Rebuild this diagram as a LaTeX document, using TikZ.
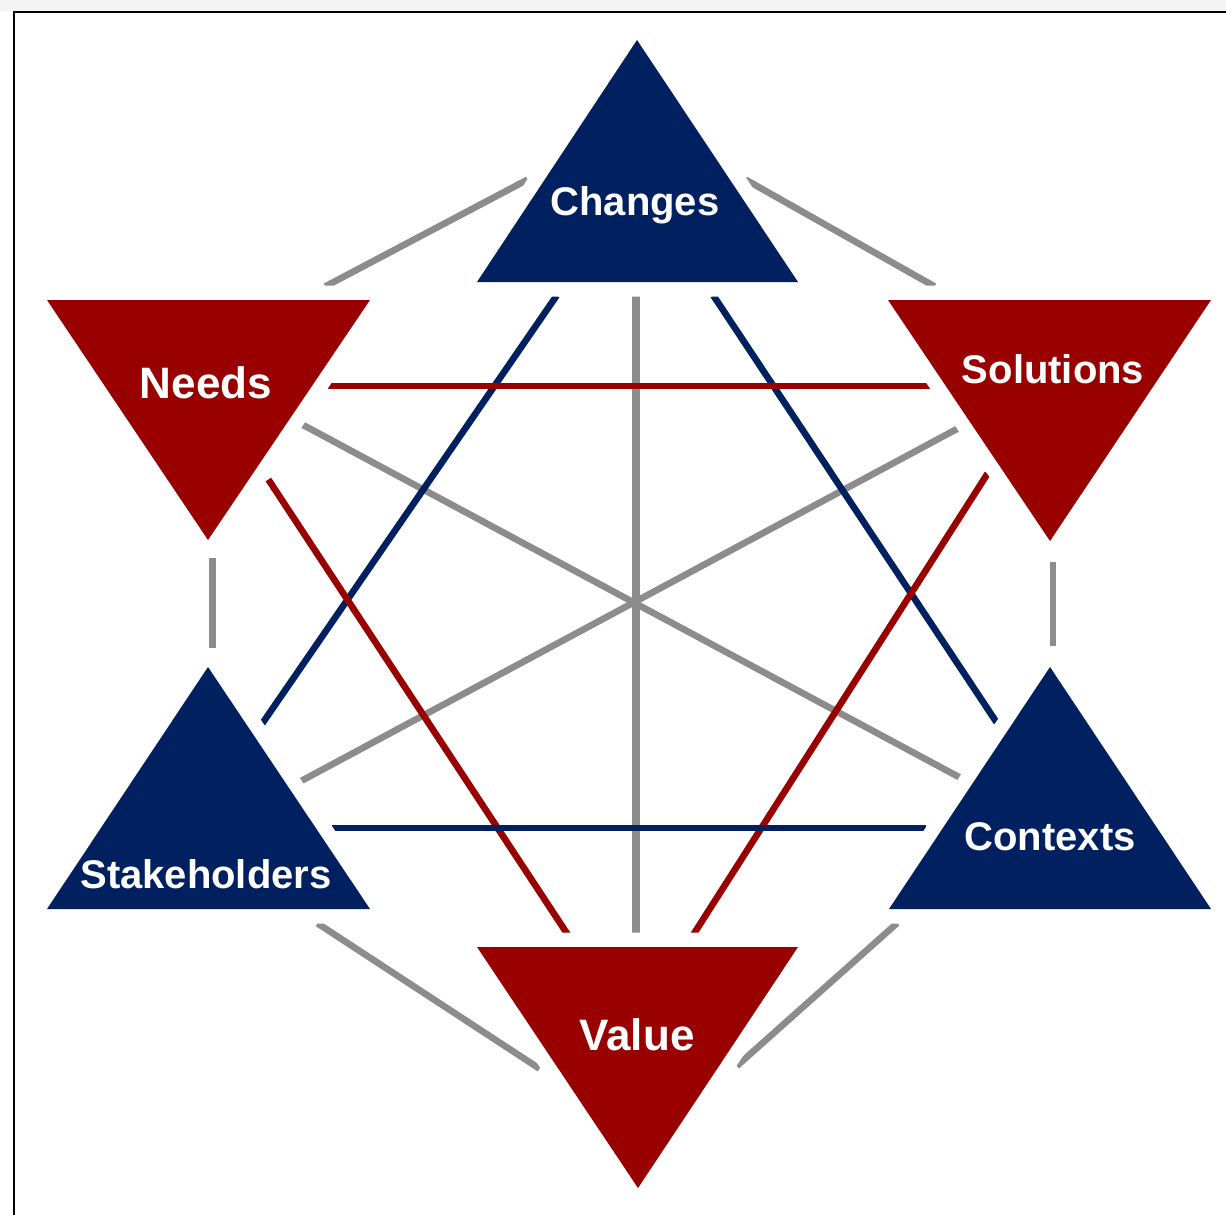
\documentclass[tikz,border=0pt]{standalone}
\usepackage{fontspec}
\setmainfont{Liberation Sans}
\definecolor{navy}{RGB}{0,32,96}
\definecolor{darkred}{RGB}{153,0,0}
\definecolor{linegray}{RGB}{140,140,140}
\definecolor{stripgray}{RGB}{244,244,244}
\begin{document}
\begin{tikzpicture}[x=0.5pt,y=-0.5pt,
  conn/.style={line width=3.3pt, line cap=butt, shorten <=-1.5pt, shorten >=-1.5pt},
  grayconn/.style={conn, draw=linegray},
  redconn/.style={conn, draw=darkred},
  blueconn/.style={conn, draw=navy},
  halo/.style={draw=white, line width=14.5pt, line join=round},
  bluetri/.style={fill=navy},
  redtri/.style={fill=darkred},
  lbl/.style={text=white, anchor=base, inner sep=0pt, font=\bfseries\fontsize{20}{24}\selectfont},
  biglbl/.style={lbl, font=\bfseries\fontsize{22}{26}\selectfont},
]
\useasboundingbox (0,0) rectangle (1226,1215);
\fill[white] (0,0) rectangle (1226,1215);
\fill[stripgray] (0,0) rectangle (1226,11);
\draw[line width=1pt] (13,11.8) -- (1226,11.8);
\draw[line width=1.2pt] (14.2,11) -- (14.2,1215);

% triangle vertices
\coordinate (C1) at (637,40);  \coordinate (C2) at (798,282);  \coordinate (C3) at (477,282);
\coordinate (N1) at (47,300);  \coordinate (N2) at (370,300);  \coordinate (N3) at (208,540);
\coordinate (S1) at (888,300); \coordinate (S2) at (1211,300); \coordinate (S3) at (1050,541);
\coordinate (K1) at (208,667); \coordinate (K2) at (370,909);  \coordinate (K3) at (47,909);
\coordinate (X1) at (1050,667);\coordinate (X2) at (1211,909); \coordinate (X3) at (889,909);
\coordinate (V1) at (477,947); \coordinate (V2) at (798,947);  \coordinate (V3) at (638,1188);

% connector ends
\coordinate (cn-a) at (525,181); \coordinate (cn-b) at (328,285);
\coordinate (cs-a) at (748,181); \coordinate (cs-b) at (932,285);
\coordinate (nk-a) at (212.5,558); \coordinate (nk-b) at (212.5,648);
\coordinate (sx-a) at (1053,562); \coordinate (sx-b) at (1053,646);
\coordinate (kv-a) at (320,925); \coordinate (kv-b) at (537,1067);
\coordinate (xv-a) at (895,925); \coordinate (xv-b) at (739,1064);
\coordinate (cv-a) at (636,298); \coordinate (cv-b) at (636,931);
\coordinate (nx-a) at (305,426); \coordinate (nx-b) at (957,776);
\coordinate (sk-a) at (955,430); \coordinate (sk-b) at (303,780);
\coordinate (ns-a) at (331,386); \coordinate (ns-b) at (927,386);
\coordinate (nv-a) at (270,482); \coordinate (nv-b) at (566,932);
\coordinate (sv-a) at (986,476); \coordinate (sv-b) at (695,932);
\coordinate (ck-a) at (555,298); \coordinate (ck-b) at (264,721);
\coordinate (cx-a) at (715,298); \coordinate (cx-b) at (995,720);
\coordinate (kx-a) at (335,828); \coordinate (kx-b) at (923,828);

% outer gray connectors
\draw[grayconn] (cn-a) -- (cn-b);
\draw[grayconn] (cs-a) -- (cs-b);
\draw[grayconn, shorten <=0pt, shorten >=0pt] (nk-a) -- (nk-b);
\draw[grayconn, shorten <=0pt, shorten >=0pt] (sx-a) -- (sx-b);
\draw[grayconn] (kv-a) -- (kv-b);
\draw[grayconn] (xv-a) -- (xv-b);
% inner connectors
\draw[grayconn, line width=3.8pt] (cv-a) -- (cv-b);
\draw[grayconn] (nx-a) -- (nx-b);
\draw[grayconn] (sk-a) -- (sk-b);
\draw[blueconn] (ck-a) -- (ck-b);
\draw[blueconn] (cx-a) -- (cx-b);
\draw[redconn] (nv-a) -- (nv-b);
\draw[redconn] (sv-a) -- (sv-b);
\draw[redconn] (ns-a) -- (ns-b);
\draw[blueconn] (kx-a) -- (kx-b);

% white halos around triangles
\foreach \t in {C,N,S,K,X,V}{
  \draw[halo] (\t1) -- (\t2) -- (\t3) -- cycle;
}
% triangles
\fill[bluetri] (C1) -- (C2) -- (C3) -- cycle;
\fill[redtri]  (N1) -- (N2) -- (N3) -- cycle;
\fill[redtri]  (S1) -- (S2) -- (S3) -- cycle;
\fill[bluetri] (K1) -- (K2) -- (K3) -- cycle;
\fill[bluetri] (X1) -- (X2) -- (X3) -- cycle;
\fill[redtri]  (V1) -- (V2) -- (V3) -- cycle;

% labels
\node[lbl]    (changes)      at (635,215)  {Changes};
\node[biglbl] (needs)        at (206,398)  {Needs};
\node[lbl]    (solutions)    at (1053,383) {Solutions};
\node[lbl]    (stakeholders) at (206,888)  {Stakeholders};
\node[lbl]    (contexts)     at (1050,850) {Contexts};
\node[biglbl] (value)        at (637,1050) {Value};
\end{tikzpicture}
\end{document}
